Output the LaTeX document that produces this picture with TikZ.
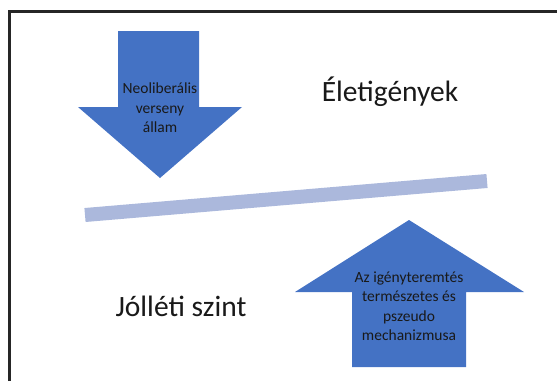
\documentclass[tikz,border=0pt]{standalone}
\usepackage{fontspec}
\setmainfont{Carlito}
\definecolor{arrowblue}{HTML}{4472C4}
\definecolor{barblue}{HTML}{ABB8DC}
\tikzset{
  arrowtext/.style={align=center, font=\fontsize{15.5}{19.5}\selectfont, inner sep=0pt, text=black!90},
  bigtext/.style={font=\fontsize{29.5}{34}\selectfont, inner sep=0pt, text=black!90},
}
\begin{document}
\begin{tikzpicture}[x=1pt,y=-1pt]
  \path[use as bounding box] (0,0) rectangle (557,381);
  \draw[line width=2.5pt, black!85] (9.5,381) -- (9.5,11.5) -- (557,11.5);
  % lefele mutato nyil
  \fill[arrowblue] (118,31) -- (199,31) -- (199,107) -- (242,107) -- (160,178)
    -- (78,107) -- (118,107) -- cycle;
  \node[arrowtext] (neolib) at (160,108) {Neoliberális\\verseny\\állam};
  % felfele mutato nyil
  \fill[arrowblue] (409,220) -- (524,292) -- (466,292) -- (466,367) -- (352,367)
    -- (352,292) -- (295,292) -- cycle;
  \node[arrowtext] (igeny) at (409,306) {Az igényteremtés\\természetes és\\pszeudo\\mechanizmusa};
  % merleg
  \draw[barblue, line width=14pt] (85,215) -- (487,181);
  \node[bigtext] (elet) at (390,92) {Életigények};
  \node[bigtext] (jolet) at (181,306) {Jólléti szint};
\end{tikzpicture}
\end{document}
